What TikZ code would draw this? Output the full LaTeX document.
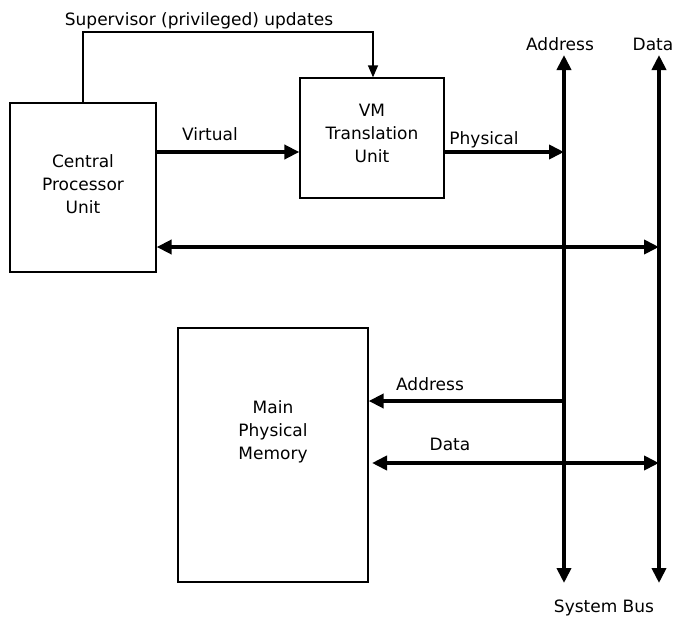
\documentclass[tikz,border=0pt]{standalone}
\usepackage{fontspec}
\setmainfont{DejaVu Sans}
\usetikzlibrary{arrows.meta}
\begin{document}
\begin{tikzpicture}[x=1pt,y=-1pt,
  box/.style={draw,line width=1.3pt,inner sep=0pt},
  lbl/.style={font=\fontsize{17}{23}\selectfont,inner sep=0pt,align=center},
  thin/.style={line width=1.3pt,-{Triangle[length=12pt,width=10pt]}},
  bus/.style={line width=4.5pt,{Triangle[length=15pt,width=14pt]}-{Triangle[length=15pt,width=14pt]}},
  one/.style={line width=4.5pt,-{Triangle[length=15pt,width=14pt]}},
  both/.style={line width=4.5pt,{Triangle[length=15pt,width=14pt]}-{Triangle[length=15pt,width=14pt]}}]
\useasboundingbox (0,0) rectangle (677,621);
% blocks
\node[box,minimum width=146pt,minimum height=169pt] (cpu) at (83,187.5) {};
\node[lbl] at (83,184) {Central\\Processor\\Unit};
\node[box,minimum width=144pt,minimum height=120pt] (vm) at (372,138) {};
\node[lbl] at (372,133) {VM\\Translation\\Unit};
\node[box,minimum width=190pt,minimum height=254pt] (mem) at (273,455) {};
\node[lbl] at (273,432) {Main\\Physical\\Memory};
% bus lines
\coordinate (at) at (564,55);
\coordinate (ab) at (564,583);
\coordinate (dt) at (659,55);
\coordinate (db) at (659,583);
\draw[bus] (at) -- (ab);
\draw[bus] (dt) -- (db);
\node[lbl,anchor=base] (alab) at (560,50) {Address};
\node[lbl,anchor=base] (dlab) at (653,50) {Data};
\node[lbl,anchor=base] (sbus) at (604,612) {System Bus};
% supervisor path
\coordinate (s1) at (83,32);
\coordinate (s2) at (373,32);
\draw[thin] (cpu.north -| s1) -- (s1) -- (s2) -- (s2 |- vm.north);
\node[lbl,anchor=base] at (199,25) {Supervisor (privileged) updates};
% virtual and physical
\draw[one] (cpu.east |- 0,152) -- (vm.west |- 0,152);
\node[lbl,anchor=base] at (210,140) {Virtual};
\coordinate (pa) at (564,152);
\draw[one] (vm.east |- 0,152) -- (pa);
\node[lbl,anchor=base] at (484,144) {Physical};
% cpu data
\coordinate (cd) at (659,247);
\draw[both] (cpu.east |- cd) -- (cd);
% memory connections
\coordinate (ma) at (564,401);
\draw[one] (ma) -- (mem.east |- ma);
\node[lbl,anchor=base] at (430,390) {Address};
\coordinate (md) at (659,463);
\draw[both] (372,463) -- (md);
\node[lbl,anchor=base] at (450,450) {Data};
\end{tikzpicture}
\end{document}
